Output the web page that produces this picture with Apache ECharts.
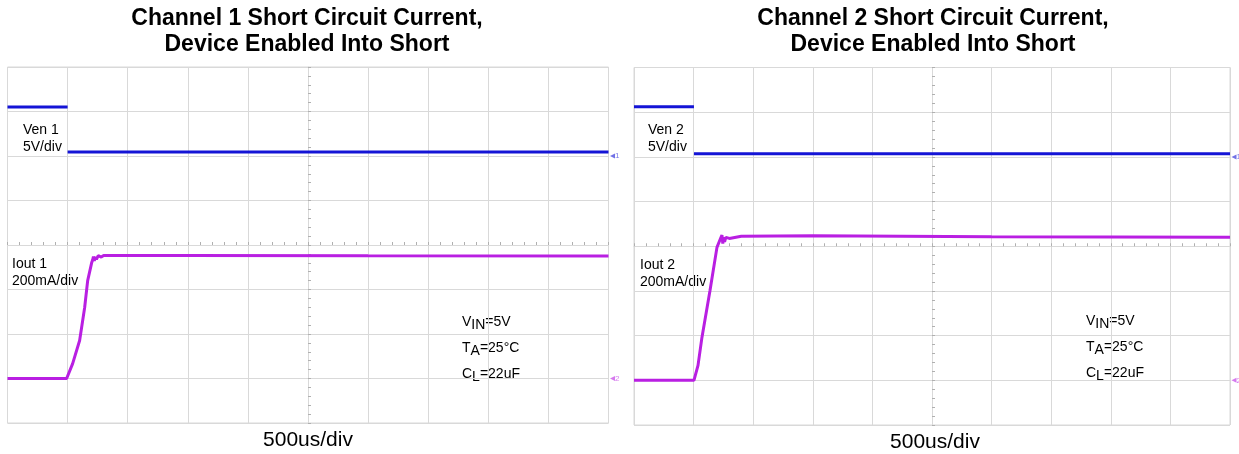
<!DOCTYPE html>
<html>
<head>
<meta charset="utf-8">
<script src="https://cdn.jsdelivr.net/npm/echarts@6/dist/echarts.min.js"></script>
<style>
html, body { margin: 0; padding: 0; background: #fff; }
#chart { width: 1239px; height: 454px; }
</style>
</head>
<body>
<div id="chart"></div>
<script>
// time in us (10 div x 500us/div), Ven in V, Iout in mA
var ven1Time = [0, 500, 500, 500, 5000];
var ven1 = [5.5, 5.5, null, 0.45, 0.45];
var iout1Time = [0, 492, 542, 600, 642, 667, 700, 708, 715, 722, 730, 740, 755, 780, 800, 1500, 3000, 5000];
var iout1 = [0, 0, 67, 171, 319, 440, 520, 532, 548, 528, 546, 536, 552, 546, 553, 553, 552, 551];

var ven2Time = [0, 503, 503, 503, 5000];
var ven2 = [5.6, 5.6, null, 0.34, 0.34];
var iout2Time = [0, 503, 537, 570, 638, 696, 730, 738, 745, 752, 760, 770, 800, 900, 1500, 3000, 5000];
var iout2 = [0, 0, 67, 192, 403, 595, 640, 650, 612, 640, 620, 640, 635, 645, 647, 643, 640];

var titles = ['Channel 1 Short Circuit Current,\nDevice Enabled Into Short',
              'Channel 2 Short Circuit Current,\nDevice Enabled Into Short'];

function pairs(xs, ys) {
    return xs.map(function (x, i) { return [x, ys[i]]; });
}

var gridColor = '#d9d9d9';
var blue = '#1414d6';
var magenta = '#b91fe2';
var font = '"Liberation Sans", Arial, sans-serif';

var grids = [
    { left: 7.5, top: 67, width: 601, height: 356 },
    { left: 634, top: 67.5, width: 596, height: 357.5 }
];

var xAxes = [], yAxes = [], series = [];
grids.forEach(function (g, k) {
    g.show = true;
    g.borderColor = gridColor;
    g.borderWidth = 1;
    var xBase = k * 2, yBase = k * 3;
    // time axis (grid lines + center line with ticks)
    xAxes.push({
        type: 'value', gridIndex: k, min: 0, max: 5000, interval: 500,
        axisLabel: { show: false },
        axisLine: { show: true, onZero: true, onZeroAxisIndex: yBase, lineStyle: { color: gridColor } },
        axisTick: { show: true, length: 3, inside: true, lineStyle: { color: '#b0b0b0' } },
        minorTick: { show: true, splitNumber: 5, length: 3, lineStyle: { color: '#b0b0b0' } },
        splitLine: { show: true, lineStyle: { color: gridColor, width: 1 } }
    });
    // helper axis in divisions, for the vertical center line
    xAxes.push({ type: 'value', gridIndex: k, min: -5, max: 5, show: false });
    // division axis
    yAxes.push({
        type: 'value', gridIndex: k, min: -4, max: 4, interval: 1,
        axisLabel: { show: false },
        axisLine: { show: true, onZero: true, onZeroAxisIndex: xBase + 1, lineStyle: { color: gridColor } },
        axisTick: { show: true, length: 3, inside: true, lineStyle: { color: '#b0b0b0' } },
        minorTick: { show: true, splitNumber: 5, length: 3, lineStyle: { color: '#b0b0b0' } },
        splitLine: { show: true, lineStyle: { color: gridColor, width: 1 } }
    });
    // Ven 5V/div, Iout 200mA/div
    yAxes.push({ type: 'value', gridIndex: k, min: -30, max: 10, show: false });
    yAxes.push({ type: 'value', gridIndex: k, min: -200, max: 1400, show: false });
});

function marker(txt, color, yv) {
    return {
        symbol: 'triangle', symbolSize: 5, symbolRotate: 90, symbolOffset: [4, 0],
        silent: true,
        itemStyle: { color: color, opacity: 0.6 },
        label: { show: true, position: 'right', formatter: txt, fontSize: 8, color: color, opacity: 0.6, distance: 0 },
        data: [{ coord: [5000, yv] }]
    };
}

var traces = [
    { name: 'Ven 1', x: 0, y: 1, data: pairs(ven1Time, ven1), color: blue, mark: '1' },
    { name: 'Iout 1', x: 0, y: 2, data: pairs(iout1Time, iout1), color: magenta, mark: '2' },
    { name: 'Ven 2', x: 2, y: 4, data: pairs(ven2Time, ven2), color: blue, mark: '1' },
    { name: 'Iout 2', x: 2, y: 5, data: pairs(iout2Time, iout2), color: magenta, mark: '2' }
];
traces.forEach(function (t) {
    series.push({
        name: t.name, type: 'line', xAxisIndex: t.x, yAxisIndex: t.y,
        data: t.data, showSymbol: false, connectNulls: false, animation: false,
        lineStyle: { color: t.color, width: 3 },
        itemStyle: { color: t.color },
        markPoint: marker(t.mark, t.color, 0)
    });
});

function txt(x, y, s, size, extra) {
    var st = { x: x, y: y, text: s, font: (extra && extra.bold ? 'bold ' : '') + size + 'px ' + font,
               fill: '#000', textAlign: (extra && extra.align) || 'left', textVerticalAlign: 'middle' };
    return { type: 'text', style: st, silent: true };
}

function params(x, y) {
    var rich = {
        m: { fontSize: 14, fontFamily: 'Liberation Sans', lineHeight: 20, color: '#000' },
        s: { fontSize: 14, fontFamily: 'Liberation Sans', lineHeight: 13, verticalAlign: 'bottom', color: '#000' }
    };
    var lines = ['{m|V}{s|IN}{m|=5V}', '{m|T}{s|A}{m|=25°C}', '{m|C}{s|L}{m|=22uF}'];
    return lines.map(function (l, i) {
        return { type: 'text', silent: true,
                 style: { x: x, y: y + i * 26, text: l, rich: rich, textVerticalAlign: 'middle' } };
    });
}

var graphics = [
    txt(307, 19, titles[0].split('\n')[0], 23, { bold: true, align: 'center' }),
    txt(307, 45, titles[0].split('\n')[1], 23, { bold: true, align: 'center' }),
    txt(933, 19, titles[1].split('\n')[0], 23, { bold: true, align: 'center' }),
    txt(933, 45, titles[1].split('\n')[1], 23, { bold: true, align: 'center' }),
    txt(23, 130, 'Ven 1', 14), txt(23, 147, '5V/div', 14),
    txt(12, 264, 'Iout 1', 14), txt(12, 281, '200mA/div', 14),
    txt(648, 130, 'Ven 2', 14), txt(648, 147, '5V/div', 14),
    txt(640, 265, 'Iout 2', 14), txt(640, 282, '200mA/div', 14),
    txt(308, 440, '500us/div', 21, { align: 'center' }),
    txt(935, 442, '500us/div', 21, { align: 'center' })
].concat(params(462, 322)).concat(params(1086, 321));

var chart = echarts.init(document.getElementById('chart'));
chart.setOption({
    animation: false,
    grid: grids,
    xAxis: xAxes,
    yAxis: yAxes,
    series: series,
    graphic: graphics
});
</script>
</body>
</html>
